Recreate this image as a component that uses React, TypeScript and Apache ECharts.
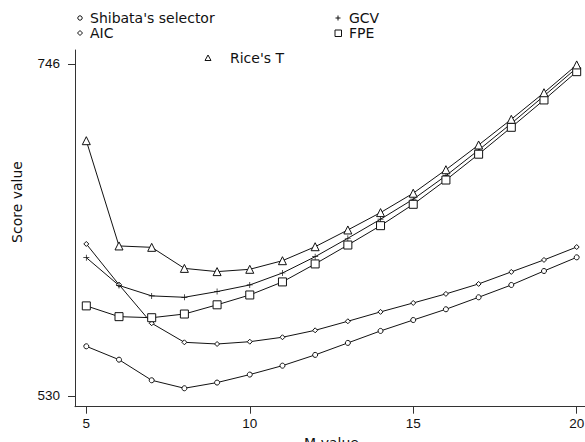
import React, { useEffect, useRef } from "react";
import * as echarts from "echarts";

const mValues = [5, 6, 7, 8, 9, 10, 11, 12, 13, 14, 15, 16, 17, 18, 19, 20];
const shibata = [562.3, 553.6, 540.2, 535.0, 538.7, 543.9, 549.7, 556.7, 564.5, 572.3, 579.4, 586.4, 594.2, 602.2, 611.3, 620.2];
const aic = [628.9, 602.4, 577.3, 564.9, 563.8, 565.3, 568.2, 572.7, 578.6, 584.7, 590.5, 596.4, 602.9, 610.7, 618.5, 626.9];
const gcv = [620.0, 601.9, 595.1, 594.2, 597.9, 602.2, 610.0, 620.6, 632.6, 645.0, 658.0, 673.3, 690.0, 707.3, 725.2, 743.4];
const fpe = [588.6, 581.6, 580.9, 583.3, 589.3, 595.7, 604.2, 615.9, 628.2, 640.8, 654.7, 670.5, 687.3, 704.8, 722.6, 741.0];
const riceT = [696.1, 627.6, 626.7, 613.0, 610.9, 612.4, 618.0, 627.1, 638.0, 649.3, 661.9, 677.2, 693.3, 710.0, 727.3, 745.4];
const xTicks = [5, 10, 15, 20];
const yTicks = [530, 746];
const FONT = "'DejaVu Sans', Verdana, sans-serif";
const NUMFONT = "'Liberation Sans', Arial, Helvetica, sans-serif";

const PLUS = "path://M0,4.4h10v1.2h-10z M4.4,0h1.2v10h-1.2z";

function mk(name: string, vals: number[], symbol: string, size: number) {
  return {
    name,
    type: "line",
    data: mValues.map((m, i) => [m, vals[i]]),
    symbol,
    symbolSize: size,
    showAllSymbol: true,
    lineStyle: { color: "#111", width: 1 },
    itemStyle: {
      color: symbol === PLUS ? "#111" : "#fff",
      borderColor: "#111",
      borderWidth: symbol === PLUS ? 0 : 1,
    },
    emphasis: { disabled: true },
    z: 3,
  };
}

export default function App() {
  const ref = useRef<HTMLDivElement>(null);
  useEffect(() => {
    if (!ref.current) return;
    const chart = echarts.init(ref.current, null, { renderer: "svg" });
    const txt = { fontFamily: FONT, fontSize: 14, fill: "#111" };
    chart.setOption({
      animation: false,
      backgroundColor: "#fff",
      grid: { left: 75, top: 50, right: 12, bottom: 35.3, containLabel: false, outerBoundsMode: "none" },
      xAxis: {
        type: "value",
        min: 4.654,
        max: 20.346,
        name: "M value",
        nameLocation: "middle",
        nameGap: 25,
        nameTextStyle: { fontFamily: FONT, fontSize: 14, color: "#111" },
        axisLine: { lineStyle: { color: "#333", width: 1 } },
        axisTick: { show: true, length: 7, customValues: xTicks, lineStyle: { color: "#333" } },
        axisLabel: { customValues: xTicks, margin: 10, fontFamily: NUMFONT, fontSize: 13.5, color: "#111" },
        splitLine: { show: false },
      },
      yAxis: {
        type: "value",
        min: 523.0,
        max: 755.1,
        axisLine: { show: true, lineStyle: { color: "#333", width: 1 } },
        axisTick: { show: true, length: 7, customValues: yTicks, lineStyle: { color: "#333" } },
        axisLabel: { customValues: yTicks, margin: 15, fontFamily: NUMFONT, fontSize: 13.5, color: "#111" },
        splitLine: { show: false },
      },
      series: [
        mk("Shibata's selector", shibata, "circle", 5),
        mk("AIC", aic, "diamond", 5),
        mk("GCV", gcv, PLUS, 6),
        mk("FPE", fpe, "rect", 8),
        mk("Rice's T", riceT, "triangle", 8),
      ],
      graphic: [
        { type: "text", x: 17, y: 202, rotation: Math.PI / 2, style: { ...txt, text: "Score value", align: "center", verticalAlign: "middle" } },
        { type: "circle", shape: { cx: 80, cy: 18, r: 2.2 }, style: { fill: "#fff", stroke: "#111", lineWidth: 1 } },
        { type: "text", x: 90, y: 18, style: { ...txt, text: "Shibata's selector", verticalAlign: "middle" } },
        { type: "polygon", shape: { points: [[80, 30.5], [82.5, 33], [80, 35.5], [77.5, 33]] }, style: { fill: "#fff", stroke: "#111", lineWidth: 1 } },
        { type: "text", x: 90, y: 33, style: { ...txt, text: "AIC", verticalAlign: "middle" } },
        { type: "line", shape: { x1: 335.5, y1: 18, x2: 340.5, y2: 18 }, style: { stroke: "#111", lineWidth: 1 } },
        { type: "line", shape: { x1: 338, y1: 15.5, x2: 338, y2: 20.5 }, style: { stroke: "#111", lineWidth: 1 } },
        { type: "text", x: 349, y: 18, style: { ...txt, text: "GCV", verticalAlign: "middle" } },
        { type: "rect", shape: { x: 335, y: 30, width: 6.5, height: 6.5 }, style: { fill: "#fff", stroke: "#111", lineWidth: 1 } },
        { type: "text", x: 349, y: 33, style: { ...txt, text: "FPE", verticalAlign: "middle" } },
        { type: "polygon", shape: { points: [[208, 55], [211, 60.5], [205, 60.5]] }, style: { fill: "#fff", stroke: "#111", lineWidth: 1 } },
        { type: "text", x: 230, y: 58, style: { ...txt, text: "Rice's T", verticalAlign: "middle" } },
      ],
    });
    return () => chart.dispose();
  }, []);
  return (
    <div
      ref={ref}
      style={{ position: "fixed", left: 0, top: 0, width: 600, height: 442, background: "#fff" }}
    />
  );
}
